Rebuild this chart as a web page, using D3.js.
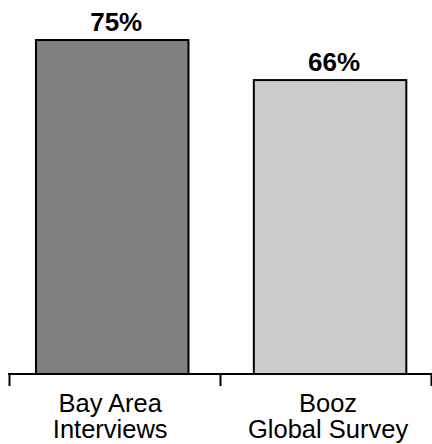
<!DOCTYPE html>
<html>
<head>
<meta charset="utf-8">
<script src="https://cdn.jsdelivr.net/npm/d3@7"></script>
<style>
  html, body { margin: 0; padding: 0; background: #fff; }
  svg { display: block; font-family: "Liberation Sans", Arial, sans-serif; }
</style>
</head>
<body>
<svg id="chart" width="432" height="444"></svg>
<script>
// Share of respondents, by source
const categories = [["Bay Area", "Interviews"], ["Booz", "Global Survey"]];
const values = [75, 66];
const valueLabels = ["75%", "66%"];
const fills = ["#808080", "#cccccc"];

const svg = d3.select("#chart");
const baseY = 374;

const x = d3.scaleBand()
  .domain(d3.range(categories.length))
  .range([3.3, 439])
  .paddingInner(0.3)
  .paddingOuter(0.15);

const y = d3.scaleLinear().domain([0, 75]).range([baseY, 40]);

// Group separators along the category axis
const sep = d3.scaleLinear().domain([0, categories.length]).range([9, 431]);
const axis = d3.axisBottom(sep)
  .tickValues(d3.range(categories.length + 1))
  .tickFormat("")
  .tickSizeInner(12)
  .tickSizeOuter(0);

// Bars
svg.append("g").selectAll("rect")
  .data(values)
  .join("rect")
  .attr("x", (d, i) => x(i))
  .attr("y", d => y(d))
  .attr("width", x.bandwidth())
  .attr("height", d => baseY - y(d))
  .attr("fill", (d, i) => fills[i])
  .attr("stroke", "#000")
  .attr("stroke-width", 2);

// Axis
const ax = svg.append("g")
  .attr("transform", `translate(0,${baseY})`)
  .call(axis);
ax.select(".domain").attr("stroke", "#000").attr("stroke-width", 2)
  .attr("d", "M8,0H432");
ax.selectAll(".tick line").attr("stroke", "#000").attr("stroke-width", 2);

// Value labels
svg.append("g").selectAll("text")
  .data(values)
  .join("text")
  .attr("x", (d, i) => x(i) + x.bandwidth() / 2 + 4)
  .attr("y", d => y(d) - 9)
  .attr("text-anchor", "middle")
  .attr("font-size", 26)
  .attr("font-weight", "bold")
  .attr("fill", "#000")
  .text((d, i) => valueLabels[i]);

// Category labels (two lines each)
const cat = svg.append("g").selectAll("text")
  .data(categories)
  .join("text")
  .attr("text-anchor", "middle")
  .attr("font-size", 25.5)
  .attr("fill", "#000");
cat.each(function(lines, i) {
  const t = d3.select(this);
  lines.forEach((line, k) => {
    t.append("tspan")
      .attr("x", x(i) + x.bandwidth() / 2 - 2)
      .attr("y", 412 + k * 26)
      .text(line);
  });
});
</script>
</body>
</html>
